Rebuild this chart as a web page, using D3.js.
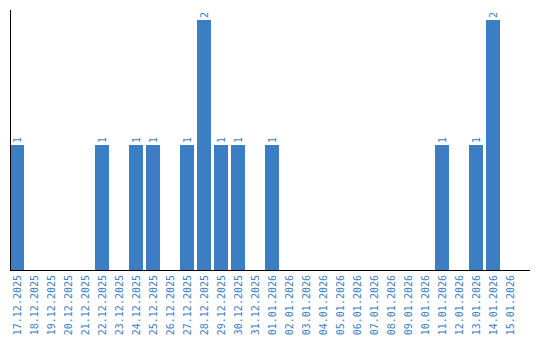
<!DOCTYPE html>
<html>
<head>
<meta charset="utf-8">
<script src="https://cdn.jsdelivr.net/npm/d3@7"></script>
<style>
  body { margin: 0; background: #fff; }
  svg text { font-family: "DejaVu Sans Mono", monospace; }
</style>
</head>
<body>
<svg width="540" height="340"></svg>
<script>
const dates = ["17.12.2025","18.12.2025","19.12.2025","20.12.2025","21.12.2025","22.12.2025",
  "23.12.2025","24.12.2025","25.12.2025","26.12.2025","27.12.2025","28.12.2025","29.12.2025",
  "30.12.2025","31.12.2025","01.01.2026","02.01.2026","03.01.2026","04.01.2026","05.01.2026",
  "06.01.2026","07.01.2026","08.01.2026","09.01.2026","10.01.2026","11.01.2026","12.01.2026",
  "13.01.2026","14.01.2026","15.01.2026"];
const counts = [1,0,0,0,0,1,0,1,1,0,1,2,1,1,0,1,0,0,0,0,0,0,0,0,0,1,0,1,2,0];

const blue = "#3b7ec3";
const svg = d3.select("svg");
const mLeft = 10, mTop = 10, mBottom = 270, mRight = 530;

let x = d3.scaleBand()
    .domain(dates)
    .range([mLeft, 517])
    .paddingInner(3 / 17)
    .paddingOuter(0);

let y = d3.scaleLinear()
    .domain([0, 2])
    .range([mBottom, 20]);

const data = dates.map(function(d, i) { return {label: d, value: counts[i]}; });

// bars
svg.selectAll(".bar")
    .data(data.filter(function(d) { return d.value > 0; }))
    .enter()
    .append("rect")
    .attr("class", "bar")
    .attr("x", function(d) { return x(d.label); })
    .attr("width", x.bandwidth())
    .attr("y", function(d) { return y(d.value); })
    .attr("height", function(d) { return mBottom - y(d.value); })
    .attr("fill", blue);

// value labels
svg.selectAll(".val")
    .data(data.filter(function(d) { return d.value > 0; }))
    .enter()
    .append("text")
    .attr("class", "val")
    .attr("transform", function(d) {
        return "translate(" + (x(d.label) + x.bandwidth() / 2 + 3.5) + "," + (y(d.value) - 2) + ") rotate(-90)";
    })
    .attr("font-size", "10px")
    .attr("fill", blue)
    .text(function(d) { return d.value; });

// x axis
let xAxis = svg.append("g")
    .attr("transform", "translate(0," + mBottom + ")")
    .call(d3.axisBottom(x).tickSize(0).tickPadding(0));
xAxis.select(".domain").remove();
xAxis.selectAll("text")
    .attr("font-size", "10px")
    .attr("font-family", "DejaVu Sans Mono, monospace")
    .attr("fill", blue)
    .attr("text-anchor", "end")
    .attr("dy", null)
    .attr("y", 0)
    .attr("transform", "translate(3.5,5) rotate(-90)");

svg.append("line")
    .attr("x1", mLeft).attr("x2", mRight)
    .attr("y1", mBottom + 0.5).attr("y2", mBottom + 0.5)
    .attr("stroke", "#000").attr("stroke-width", 1);

// y axis line
svg.append("line")
    .attr("x1", mLeft + 0.5).attr("x2", mLeft + 0.5)
    .attr("y1", mTop).attr("y2", mBottom)
    .attr("stroke", "#000").attr("stroke-width", 1);
</script>
</body>
</html>
